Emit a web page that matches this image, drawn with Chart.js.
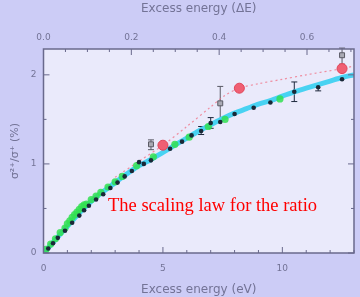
<!DOCTYPE html>
<html>
<head>
<meta charset="utf-8">
<script src="https://cdn.jsdelivr.net/npm/chart.js@4/dist/chart.umd.min.js"></script>
<style>
  html, body { margin: 0; padding: 0; background: rgb(204, 204, 246); }
  #wrap { width: 360px; height: 297px; }
</style>
</head>
<body>
<div id="wrap"><canvas id="ratioChart"></canvas></div>
<script>
// smooth fit (cyan)
const fitX = [0, 0.5, 1, 1.5, 2, 2.5, 3, 3.5, 4, 4.5, 5, 5.5, 6, 6.5, 7, 7.5, 8, 8.5, 9, 9.5, 10, 10.5, 11, 11.5, 12, 12.5, 13];
const fitY = [0, 0.15, 0.3, 0.45, 0.58, 0.69, 0.79, 0.89, 0.98, 1.05, 1.13, 1.21, 1.29, 1.37, 1.44, 1.51, 1.57, 1.62, 1.67, 1.71, 1.76, 1.81, 1.85, 1.89, 1.93, 1.97, 2.0];

// red dotted guide
const redLineX = [3.0, 4.0, 5.0, 6.0, 7.0, 7.6, 8.2, 9.0, 10.0, 11.0, 12.5, 13];
const redLineY = [0.85, 1.03, 1.21, 1.42, 1.64, 1.77, 1.85, 1.9, 1.95, 2.0, 2.07, 2.1];

// red circles
const redX = [5.0, 8.2, 12.5];
const redY = [1.21, 1.85, 2.07];

// grey squares with error bars
const greyX = [4.5, 7.4, 12.5];
const greyY = [1.22, 1.68, 2.22];
const greyLow = [1.16, 1.49, 2.12];
const greyHigh = [1.27, 1.87, 2.3];

// black points (a few with error bars)
const blackX = [0.2, 0.4, 0.6, 0.9, 1.2, 1.5, 1.7, 1.9, 2.2, 2.5, 2.8, 3.1, 3.4, 3.7, 4.0, 4.2, 4.5, 5.3, 5.8, 6.2, 6.6, 7.0, 7.4, 8.0, 8.8, 9.5, 10.5, 11.5, 12.5];
const blackY = [0.05, 0.11, 0.17, 0.25, 0.34, 0.42, 0.48, 0.53, 0.6, 0.66, 0.73, 0.79, 0.86, 0.92, 1.02, 1.0, 1.04, 1.17, 1.25, 1.32, 1.37, 1.46, 1.47, 1.56, 1.63, 1.69, 1.81, 1.86, 1.95];
const blackLow = [null, null, null, null, null, null, null, null, null, null, null, null, null, null, null, null, null, null, null, null, 1.33, 1.4, null, null, null, null, 1.7, 1.82, null];
const blackHigh = [null, null, null, null, null, null, null, null, null, null, null, null, null, null, null, null, null, null, null, null, 1.42, 1.52, null, null, null, null, 1.92, 1.9, null];

// green points
const greenX = [0.1, 0.3, 0.5, 0.7, 0.9, 1.0, 1.1, 1.2, 1.3, 1.4, 1.5, 1.6, 1.7, 1.8, 2.0, 2.2, 2.4, 2.7, 3.0, 3.3, 3.9, 4.6, 5.5, 6.1, 6.9, 7.6, 9.9];
const greenY = [0.04, 0.1, 0.16, 0.23, 0.28, 0.33, 0.36, 0.4, 0.43, 0.46, 0.49, 0.52, 0.54, 0.55, 0.6, 0.64, 0.68, 0.74, 0.8, 0.86, 0.98, 1.08, 1.22, 1.3, 1.42, 1.5, 1.73];

// axis ticks
const bottomTicks = [0, 5, 10];
const topTicks = [0, 0.2, 0.4, 0.6];
const leftTicks = [0, 1, 2];

const axisColor = 'rgb(105, 105, 140)';
const textColor = 'rgb(115, 115, 150)';
const plotBg = 'rgb(234, 234, 251)';

function pts(xs, ys) { return xs.map((x, i) => ({ x: x, y: ys[i] })); }
function isMajor(v, list) { return list.some(t => Math.abs(t - v) < 1e-6); }

const framePlugin = {
    id: 'framePlugin',
    beforeDraw(chart) {
        const { ctx, chartArea: a } = chart;
        ctx.save();
        ctx.fillStyle = plotBg;
        ctx.fillRect(a.left, a.top, a.width, a.height);
        ctx.restore();
    },
    beforeDatasetsDraw(chart) {
        // error bars
        const { ctx, scales } = chart;
        const sx = scales.x, sy = scales.y;
        const bars = [
            { xs: greyX, lo: greyLow, hi: greyHigh, color: 'rgb(90, 90, 100)' },
            { xs: blackX, lo: blackLow, hi: blackHigh, color: 'rgb(30, 40, 60)' }
        ];
        ctx.save();
        ctx.lineWidth = 1;
        bars.forEach(b => {
            ctx.strokeStyle = b.color;
            b.xs.forEach((x, i) => {
                if (b.lo[i] == null) return;
                const px = sx.getPixelForValue(x);
                const y1 = sy.getPixelForValue(b.lo[i]);
                const y2 = sy.getPixelForValue(b.hi[i]);
                ctx.beginPath();
                ctx.moveTo(px, y1); ctx.lineTo(px, y2);
                ctx.moveTo(px - 3, y1); ctx.lineTo(px + 3, y1);
                ctx.moveTo(px - 3, y2); ctx.lineTo(px + 3, y2);
                ctx.stroke();
            });
        });
        ctx.restore();
    },
    afterDraw(chart) {
        const { ctx, chartArea: a, scales } = chart;
        ctx.save();
        ctx.strokeStyle = axisColor;
        ctx.lineWidth = 1.5;
        ctx.strokeRect(a.left, a.top, a.width, a.height);
        ctx.lineWidth = 1;
        ctx.beginPath();
        scales.x.ticks.forEach(t => {
            const px = scales.x.getPixelForValue(t.value);
            const len = isMajor(t.value, bottomTicks) ? 6 : 3;
            ctx.moveTo(px, a.bottom); ctx.lineTo(px, a.bottom - len);
        });
        scales.x2.ticks.forEach(t => {
            const px = scales.x2.getPixelForValue(t.value);
            const len = isMajor(t.value, topTicks) ? 6 : 3;
            ctx.moveTo(px, a.top); ctx.lineTo(px, a.top + len);
        });
        scales.y.ticks.forEach(t => {
            const py = scales.y.getPixelForValue(t.value);
            const len = isMajor(t.value, leftTicks) ? 6 : 3;
            ctx.moveTo(a.left, py); ctx.lineTo(a.left + len, py);
            ctx.moveTo(a.right, py); ctx.lineTo(a.right - len, py);
        });
        ctx.stroke();

        // caption
        ctx.fillStyle = 'rgb(255, 0, 0)';
        ctx.font = '18.5px "Liberation Serif", "Times New Roman", serif';
        ctx.textBaseline = 'alphabetic';
        ctx.fillText('The scaling law for the ratio', 108, 211);
        ctx.restore();
    }
};

const tickFont = { family: 'DejaVu Sans', size: 9 };
const titleFont = { family: 'DejaVu Sans', size: 12 };

const config = {
    type: 'scatter',
    data: {
        datasets: [
            {
                type: 'line', label: 'fit', data: pts(fitX, fitY),
                borderColor: 'rgb(72, 210, 242)', borderWidth: 5,
                pointRadius: 0, tension: 0.3, order: 10
            },
            {
                type: 'line', label: 'red fit', data: pts(redLineX, redLineY),
                borderColor: 'rgba(240, 110, 130, 0.75)', borderWidth: 1.2, borderDash: [2, 3],
                pointRadius: 0, tension: 0.3, order: 9
            },
            {
                label: 'green', data: pts(greenX, greenY),
                backgroundColor: 'rgba(50, 225, 80, 0.85)', borderWidth: 0,
                pointRadius: 3.6, order: 5
            },
            {
                label: 'black', data: pts(blackX, blackY),
                backgroundColor: 'rgb(25, 40, 55)', borderWidth: 0,
                pointRadius: 2.3, order: 4
            },
            {
                label: 'grey', data: pts(greyX, greyY),
                pointStyle: 'rect', backgroundColor: 'rgb(170, 170, 180)',
                borderColor: 'rgb(90, 90, 100)', borderWidth: 1,
                pointRadius: 3.5, order: 3
            },
            {
                label: 'red', data: pts(redX, redY),
                backgroundColor: 'rgb(240, 95, 115)', borderColor: 'rgb(225, 70, 90)',
                borderWidth: 1, pointRadius: 5, order: 1
            }
        ]
    },
    options: {
        responsive: true,
        maintainAspectRatio: false,
        animation: false,
        layout: { padding: { left: 0, right: 5, top: 0, bottom: 0 } },
        plugins: { legend: { display: false }, tooltip: { enabled: false } },
        scales: {
            x: {
                type: 'linear', position: 'bottom', min: 0, max: 13,
                grid: { display: false, drawTicks: false }, border: { display: false },
                ticks: {
                    stepSize: 1, autoSkip: false, includeBounds: false, maxRotation: 0,
                    padding: 10, color: textColor, font: tickFont,
                    callback: v => isMajor(v, bottomTicks) ? String(v) : ''
                },
                title: { display: true, text: 'Excess energy (eV)', color: textColor, font: titleFont, padding: { top: 2, bottom: 0 } },
                afterFit: s => { s.height = 44; s.paddingLeft = 0; s.paddingRight = 0; }
            },
            x2: {
                type: 'linear', position: 'top', min: 0, max: 0.707,
                grid: { display: false, drawTicks: false }, border: { display: false },
                ticks: {
                    stepSize: 0.05, autoSkip: false, includeBounds: false, maxRotation: 0,
                    padding: 6, color: textColor, font: tickFont,
                    callback: v => isMajor(v, topTicks) ? v.toFixed(1) : ''
                },
                title: { display: true, text: 'Excess energy (ΔE)', color: textColor, font: titleFont, padding: { top: 2, bottom: 4 } },
                afterFit: s => { s.height = 49; s.paddingLeft = 0; s.paddingRight = 0; }
            },
            y: {
                type: 'linear', min: 0, max: 2.29,
                grid: { display: false, drawTicks: false }, border: { display: false },
                ticks: {
                    stepSize: 0.5, autoSkip: false, includeBounds: false,
                    padding: 7, color: textColor, font: tickFont,
                    callback: v => isMajor(v, leftTicks) ? String(v) : ''
                },
                title: { display: true, text: 'σ²⁺/σ⁺ (%)', color: textColor, font: { family: 'DejaVu Sans', size: 11 }, padding: { top: 9, bottom: 0 } },
                afterFit: s => { s.width = 43.5; }
            }
        }
    },
    plugins: [framePlugin]
};

new Chart(document.getElementById('ratioChart'), config);
</script>
</body>
</html>
